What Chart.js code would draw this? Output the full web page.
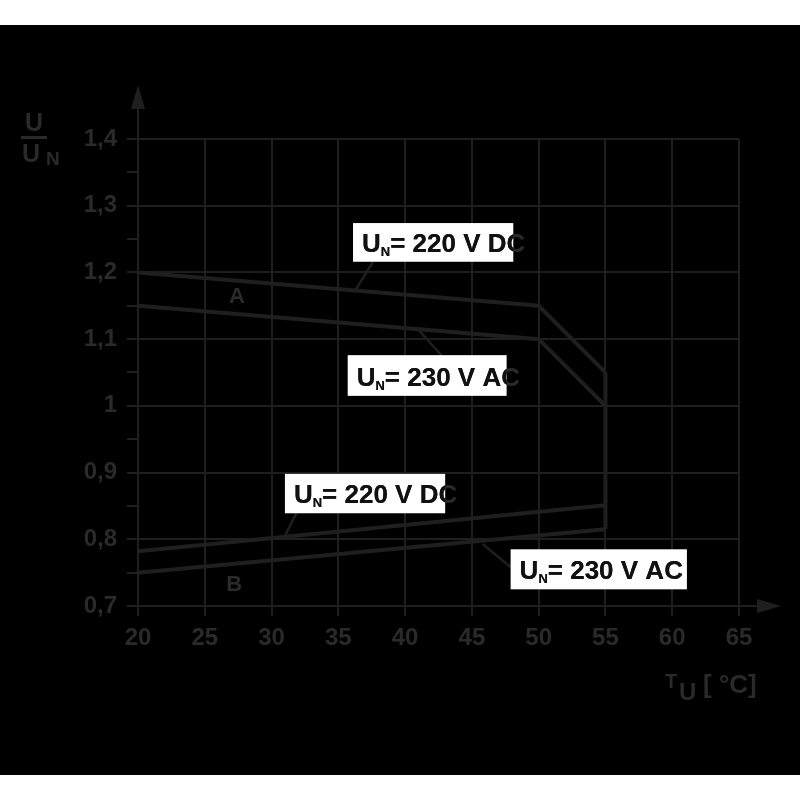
<!DOCTYPE html>
<html>
<head>
<meta charset="utf-8">
<script src="https://cdn.jsdelivr.net/npm/chart.js@4/dist/chart.umd.min.js"></script>
<style>
  html, body { margin: 0; padding: 0; background: #fff; }
  #wrap { width: 800px; height: 800px; }
</style>
</head>
<body>
<div id="wrap"><canvas id="chart" width="800" height="800"></canvas></div>
<script>
// curve A (upper limit), curve B (lower limit); U / U_N over ambient temperature
const tempA = [20, 50, 55];
const aDC = [1.2, 1.15, 1.05];
const aAC = [1.15, 1.10, 1.0];
const tempB = [20, 55];
const bDC = [0.782, 0.851];
const bAC = [0.75, 0.815];
const limitTemp = [55, 55];
const limitU = [1.05, 0.815];

const yMajor = [0.7, 0.8, 0.9, 1.0, 1.1, 1.2, 1.3, 1.4];
const yLabels = ['0,7', '0,8', '0,9', '1', '1,1', '1,2', '1,3', '1,4'];

const LINE = '#1f1f1f';
const TEXT = '#2a2a2a';
const FONT = 'Liberation Sans, Arial, sans-serif';

// callout boxes, given in data units
const callouts = [
  { text: '= 220 V DC', box: [36.1, 1.274, 48.1, 1.216], lead: [37.6, 1.216, 36.3, 1.174] },
  { text: '= 230 V AC', box: [35.7, 1.076, 47.6, 1.015], lead: [41.0, 1.114, 42.8, 1.074] },
  { text: '= 220 V DC', box: [31.0, 0.898, 43.0, 0.839], lead: [31.9, 0.841, 31.0, 0.805] },
  { text: '= 230 V AC', box: [47.9, 0.785, 61.1, 0.725], lead: [45.8, 0.793, 48.1, 0.755] }
];

const pts = (xs, ys) => xs.map((x, i) => ({ x: x, y: ys[i] }));
const ds = (data) => ({ data: data, borderColor: LINE, borderWidth: 4, pointRadius: 0, tension: 0, fill: false });

function calloutText(c, k, x, y) {
  c.font = 'bold 26px ' + FONT;
  c.fillText('U', x, y);
  let w = c.measureText('U').width;
  c.font = 'bold 13px ' + FONT;
  c.fillText('N', x + w, y + 4);
  w += c.measureText('N').width;
  c.font = 'bold 26px ' + FONT;
  c.fillText(k.text, x + w, y);
}

const frame = {
  id: 'frame',
  beforeDraw(chart) {
    const c = chart.ctx;
    c.save();
    c.fillStyle = '#fff';
    c.fillRect(0, 0, 800, 800);
    c.fillStyle = '#000';
    c.fillRect(0, 25, 800, 750);
    c.restore();
  },
  afterDraw(chart) {
    const c = chart.ctx;
    const sx = chart.scales.x, sy = chart.scales.y;
    const a = chart.chartArea;
    c.save();
    c.strokeStyle = LINE;
    c.fillStyle = LINE;
    c.lineWidth = 2;
    // axis extensions with arrows
    c.beginPath();
    c.moveTo(a.left, a.top);
    c.lineTo(a.left, a.top - 34);
    c.moveTo(a.right, a.bottom);
    c.lineTo(a.right + 22, a.bottom);
    c.stroke();
    c.beginPath();
    c.moveTo(a.left, a.top - 54);
    c.lineTo(a.left - 7, a.top - 30);
    c.lineTo(a.left + 7, a.top - 30);
    c.closePath();
    c.fill();
    c.beginPath();
    c.moveTo(a.right + 42, a.bottom);
    c.lineTo(a.right + 18, a.bottom - 7);
    c.lineTo(a.right + 18, a.bottom + 7);
    c.closePath();
    c.fill();

    // callouts
    c.textBaseline = 'alphabetic';
    c.textAlign = 'left';
    callouts.forEach(k => {
      const x0 = sx.getPixelForValue(k.box[0]), y0 = sy.getPixelForValue(k.box[1]);
      const x1 = sx.getPixelForValue(k.box[2]), y1 = sy.getPixelForValue(k.box[3]);
      c.strokeStyle = LINE;
      c.lineWidth = 2.5;
      c.beginPath();
      c.moveTo(sx.getPixelForValue(k.lead[0]), sy.getPixelForValue(k.lead[1]));
      c.lineTo(sx.getPixelForValue(k.lead[2]), sy.getPixelForValue(k.lead[3]));
      c.stroke();
      c.fillStyle = '#fff';
      c.fillRect(x0, y0, x1 - x0, y1 - y0);
      // text running past the box stays dark grey on black
      c.fillStyle = TEXT;
      calloutText(c, k, x0 + 9, y1 - 10);
      c.save();
      c.beginPath();
      c.rect(x0, y0, x1 - x0, y1 - y0);
      c.clip();
      c.fillStyle = '#111';
      calloutText(c, k, x0 + 9, y1 - 10);
      c.restore();
    });

    // curve names
    c.fillStyle = TEXT;
    c.font = 'bold 22px ' + FONT;
    c.textAlign = 'center';
    c.textBaseline = 'middle';
    c.fillText('A', sx.getPixelForValue(27.4), sy.getPixelForValue(1.163));
    c.fillText('B', sx.getPixelForValue(27.2), sy.getPixelForValue(0.731));

    // y axis title U / U_N
    c.textAlign = 'left';
    c.textBaseline = 'alphabetic';
    c.font = 'bold 25px ' + FONT;
    c.fillText('U', 25, 131);
    c.fillRect(21, 136, 26, 3);
    c.fillText('U', 22, 162);
    c.font = 'bold 19px ' + FONT;
    c.fillText('N', 46, 165);

    // x axis title T_U [ °C]
    c.font = 'bold 20px ' + FONT;
    c.fillText('T', 665, 688);
    c.font = 'bold 24px ' + FONT;
    c.fillText('U', 679, 700);
    c.font = 'bold 26px ' + FONT;
    c.fillText('[ \u00B0C]', 703, 693);
    c.restore();
  }
};

new Chart(document.getElementById('chart').getContext('2d'), {
  type: 'line',
  data: {
    datasets: [
      ds(pts(tempA, aDC)),
      ds(pts(tempA, aAC)),
      ds(pts(tempB, bDC)),
      ds(pts(tempB, bAC)),
      ds(pts(limitTemp, limitU))
    ]
  },
  options: {
    responsive: false,
    animation: false,
    devicePixelRatio: 1,
    layout: { padding: { top: 139, right: 61, bottom: 0, left: 0 } },
    plugins: { legend: { display: false }, tooltip: { enabled: false } },
    scales: {
      x: {
        type: 'linear',
        min: 20,
        max: 65,
        afterFit: (s) => { s.height = 194; },
        ticks: { stepSize: 5, color: TEXT, padding: 8, font: { family: FONT, weight: 'bold', size: 24 } },
        grid: { color: LINE, lineWidth: 2, tickLength: 10, tickColor: LINE },
        border: { color: LINE, width: 2 }
      },
      y: {
        type: 'linear',
        min: 0.7,
        max: 1.4,
        afterFit: (s) => { s.width = 138; },
        afterBuildTicks: (s) => {
          const t = [];
          yMajor.forEach((v, i) => {
            t.push({ value: v });
            if (i < yMajor.length - 1) t.push({ value: (v + yMajor[i + 1]) / 2 });
          });
          s.ticks = t;
        },
        ticks: {
          color: TEXT,
          padding: 10,
          autoSkip: false,
          font: { family: FONT, weight: 'bold', size: 24 },
          callback: (v, i) => (i % 2 === 0 ? yLabels[i / 2] : '')
        },
        grid: {
          color: (c) => (c.index % 2 === 0 ? LINE : 'rgba(0,0,0,0)'),
          lineWidth: 2,
          tickLength: 11,
          tickColor: LINE
        },
        border: { color: LINE, width: 2 }
      }
    }
  },
  plugins: [frame]
});
</script>
</body>
</html>
